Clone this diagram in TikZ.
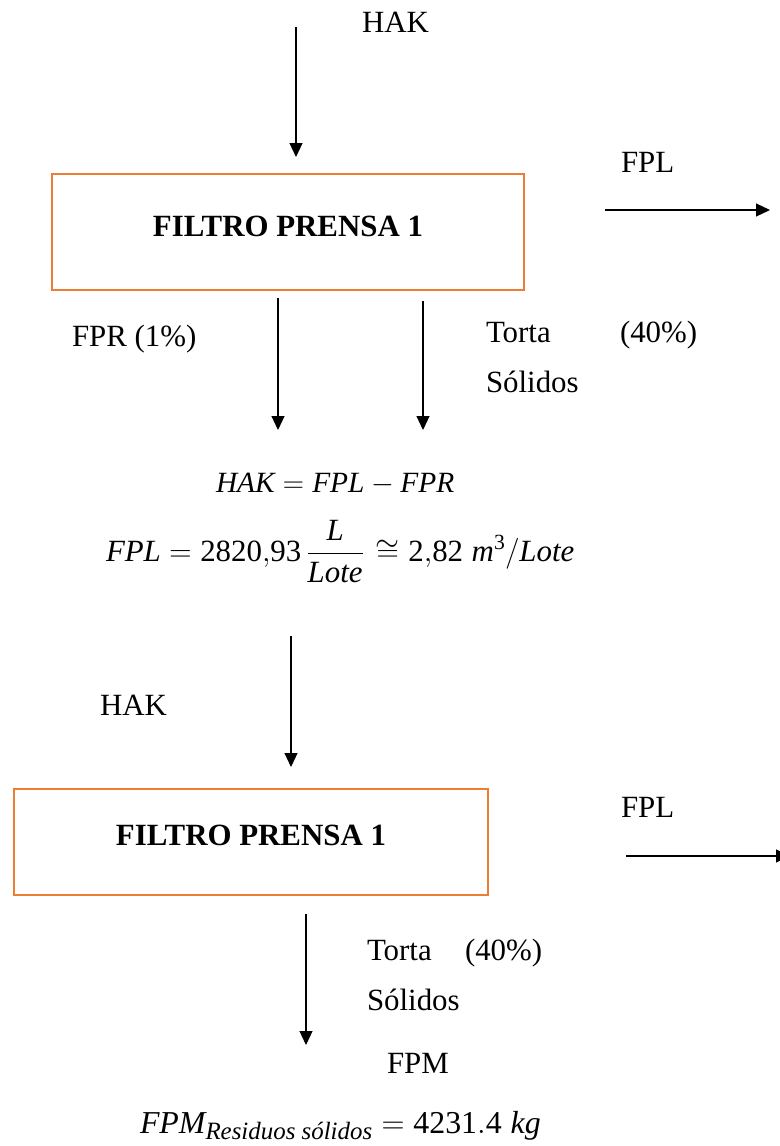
\RequirePackage{fix-cm}
\documentclass[tikz,border=0pt]{standalone}
\usepackage{amsmath}
\usepackage{fontspec}
\setmainfont{Liberation Serif}
\usetikzlibrary{arrows.meta}
\definecolor{boxorange}{HTML}{ED7D31}
% italic variable names set in the text italic
\newcommand{\vn}[1]{\mathit{#1}}
\begin{document}
\begin{tikzpicture}[x=1bp,y=-1bp,
  every node/.style={inner sep=0pt, outer sep=0pt},
  lbl/.style={font=\fontsize{31}{37}\selectfont, anchor=base west},
  eqn/.style={font=\fontsize{31}{37}\selectfont, anchor=base west},
  title/.style={font=\fontsize{31}{37}\selectfont\bfseries, anchor=center},
  unitbox/.style={draw=boxorange, line width=2.3bp},
  flow/.style={draw=black, line width=1.1bp, -{Triangle[length=14bp,width=13bp]}}]
\useasboundingbox (0,0) rectangle (780,1146);
\clip (0,0) rectangle (780,1146);

% ---- first filter press ----
\node[unitbox, minimum width=472bp, minimum height=116bp] (p1) at (288,232) {};
\node[title] (p1t) at (288,226) {FILTRO PRENSA 1};

\node[lbl] (hak1) at (362,32) {HAK};
\node[lbl] (fpl1) at (621,172) {FPL};
\node[lbl] (fpr1) at (72,346) {FPR (1\%)};
\node[lbl] (torta1) at (486,342) {Torta};
\node[lbl] (pct1) at (620,342) {(40\%)};
\node[lbl] (sol1) at (486,392) {Sólidos};

\coordinate (a1s) at (296,27);
\coordinate (a1e) at (296,157);
\coordinate (a2s) at (605,210);
\coordinate (a2e) at (770,210);
\coordinate (a3s) at (278,298);
\coordinate (a3e) at (278,430);
\coordinate (a4s) at (423,301);
\coordinate (a4e) at (423,430);
\draw[flow] (a1s) -- (a1e);
\draw[flow] (a2s) -- (a2e);
\draw[flow] (a3s) -- (a3e);
\draw[flow] (a4s) -- (a4e);

% ---- balance ----
\node[eqn, font=\fontsize{29.5}{36}\selectfont] (eq1) at (216,492) {$\vn{HAK} = \vn{FPL} - \vn{FPR}$};
\node[eqn] (eq2) at (106,561) {$\vn{FPL} = \mathrm{2820{,}93}\,\dfrac{\vn{L}}{\vn{Lote}}\mkern2mu \cong \mathrm{2{,}82}\;\vn{m}^{\mathrm{3}}/\vn{Lote}$};

% ---- second filter press ----
\node[unitbox, minimum width=474bp, minimum height=106bp] (p2) at (251,842) {};
\node[title] (p2t) at (251,835) {FILTRO PRENSA 1};

\node[lbl] (hak2) at (100,715) {HAK};
\node[lbl] (fpl2) at (621,817) {FPL};
\node[lbl] (torta2) at (367,960) {Torta};
\node[lbl] (pct2) at (465,960) {(40\%)};
\node[lbl] (sol2) at (367,1010) {Sólidos};
\node[lbl] (fpm) at (387,1073) {FPM};

\coordinate (a5s) at (291,636);
\coordinate (a5e) at (291,767);
\coordinate (a6s) at (626,856);
\coordinate (a6e) at (790,856);
\coordinate (a7s) at (306,914);
\coordinate (a7e) at (306,1045);
\draw[flow] (a5s) -- (a5e);
\draw[flow] (a6s) -- (a6e);
\draw[flow] (a7s) -- (a7e);

\node[eqn, font=\fontsize{32}{38}\selectfont] (eq3) at (140,1133) {$\vn{FPM}_{\mbox{\fontsize{25}{26}\selectfont\itshape Residuos sólidos}} = \mathrm{4231.4}\;\vn{kg}$};
\end{tikzpicture}
\end{document}
